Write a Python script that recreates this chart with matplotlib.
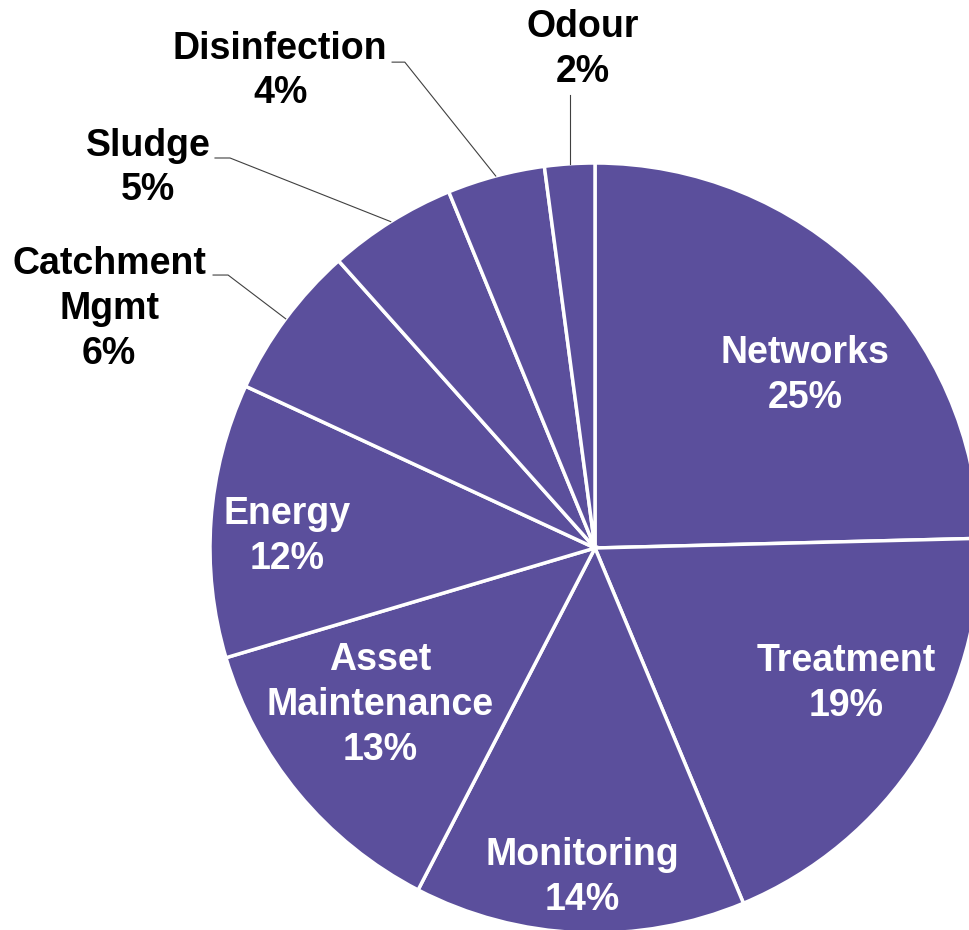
import numpy as np
import matplotlib
matplotlib.use('Agg')
import matplotlib.pyplot as plt

# data
categories = ['Networks', 'Treatment', 'Monitoring', 'Asset\nMaintenance', 'Energy',
              'Catchment\nMgmt', 'Sludge', 'Disinfection', 'Odour']
shares = [24.6, 19.1, 13.9, 12.8, 11.5, 6.5, 5.4, 4.1, 2.1]

# label layout (data units, pie radius = 1)
inside_pos = {'Networks': (0.545, 0.449), 'Treatment': (0.652, -0.353),
              'Monitoring': (-0.034, -0.857), 'Asset\nMaintenance': (-0.558, -0.408),
              'Energy': (-0.80, 0.029)}
outside_pos = {'Catchment\nMgmt': ((-1.262, 0.621), (-0.953, 0.709), (-0.992, 0.709)),
               'Sludge': ((-1.161, 0.987), (-0.948, 1.013), (-0.987, 1.013)),
               'Disinfection': ((-0.818, 1.239), (-0.494, 1.262), (-0.527, 1.262)),
               'Odour': ((-0.031, 1.294), None, 1.177)}

purple = '#5b4f9c'
plt.rcParams['font.family'] = ['Liberation Sans', 'DejaVu Sans']

fig = plt.figure(figsize=(9.7, 9.3), dpi=100)
ax = fig.add_axes([0, 0, 1, 1])
wedges, _ = ax.pie(shares, startangle=90, counterclock=False, colors=[purple]*len(shares),
                   wedgeprops=dict(edgecolor='white', linewidth=2.5))
ax.set_xlim(-595/385, 375/385)
ax.set_ylim(-382/385, 548/385)
ax.set_aspect('equal')
ax.axis('off')

for w, name, v in zip(wedges, categories, shares):
    txt = f'{name}\n{round(v)}%'
    if name in inside_pos:
        x, y = inside_pos[name]
        ax.text(x, y, txt, ha='center', va='center', color='white', fontsize=27,
                fontweight='bold', linespacing=1.32)
    else:
        (lx, ly), elbow, end = outside_pos[name]
        mid = np.deg2rad((w.theta1 + w.theta2) / 2)
        ex, ey = np.cos(mid), np.sin(mid)
        if elbow is None:
            ax.plot([ex, ex], [ey, end], color='#404040', lw=0.8)
        else:
            ax.plot([ex, elbow[0], end[0]], [ey, elbow[1], end[1]], color='#404040', lw=0.8)
        ax.text(lx, ly, txt, ha='center', va='center', color='black', fontsize=27,
                fontweight='bold', linespacing=1.32)

fig.savefig('out.png', dpi=100)
